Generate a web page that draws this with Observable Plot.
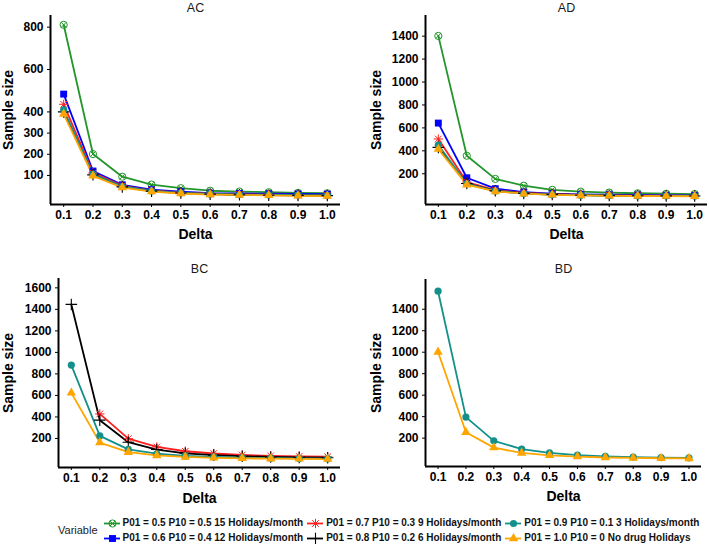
<!DOCTYPE html>
<html><head><meta charset="utf-8">
<script src="https://cdn.jsdelivr.net/npm/d3@7"></script>
<script src="https://cdn.jsdelivr.net/npm/@observablehq/plot@0.6"></script>
<style>
html,body{margin:0;padding:0;background:#fff;}
#fig{position:relative;width:709px;height:544px;overflow:hidden;font-family:"Liberation Sans",Arial,sans-serif;background:#fff;}
.panel{position:absolute;}
#legend{position:absolute;left:58px;top:515px;display:flex;align-items:center;}
#legend .vlab{font-size:11px;color:#222;margin-right:6px;}
#legend .grid{display:grid;grid-auto-flow:column;grid-template-rows:repeat(2,15px);column-gap:4px;}
#legend .item{display:flex;align-items:center;font-size:10px;font-weight:bold;color:#111;white-space:nowrap;}
#legend .item svg{margin-right:3px;}
</style></head><body><div id="fig"></div><script>
// ---- data ----
const deltas = [0.1, 0.2, 0.3, 0.4, 0.5, 0.6, 0.7, 0.8, 0.9, 1.0];
const deltaLabels = ["0.1","0.2","0.3","0.4","0.5","0.6","0.7","0.8","0.9","1.0"];
const seriesLabels = [
  "P01 = 0.5 P10 = 0.5 15 Holidays/month",
  "P01 = 0.6 P10 = 0.4 12 Holidays/month",
  "P01 = 0.7 P10 = 0.3 9 Holidays/month",
  "P01 = 0.8 P10 = 0.2 6 Holidays/month",
  "P01 = 0.9 P10 = 0.1 3 Holidays/month",
  "P01 = 1.0 P10 = 0 No drug Holidays"
];
const panelNames = ["AC", "AD", "BC", "BD"];

// AC
const ac05 = [811, 201, 94, 57, 40, 28, 24, 21, 18, 16];
const ac06 = [484, 121, 56, 33, 24, 17, 15, 14, 13, 12];
const ac07 = [436, 112, 51, 29, 19, 14, 11, 9, 8, 7];
const ac08 = [400, 103, 46, 26, 17, 12, 9, 7, 6, 5];
const ac09 = [410, 106, 48, 27, 18, 13, 10, 8, 7, 6];
const ac10 = [390, 98, 43, 24, 15, 10, 8, 6, 4, 3];
// AD
const ad05 = [1402, 357, 155, 96, 60, 44, 36, 30, 26, 23];
const ad06 = [642, 165, 70, 40, 27, 20, 17, 15, 13, 12];
const ad07 = [503, 128, 57, 33, 22, 16, 12, 10, 9, 8];
const ad08 = [430, 115, 51, 29, 19, 13, 10, 8, 7, 6];
const ad09 = [450, 112, 50, 28, 18, 13, 10, 8, 7, 6];
const ad10 = [415, 105, 46, 26, 16, 11, 8, 6, 5, 4];
// BC
const bc07 = [null, 428, 198, 121, 81, 60, 46, 38, 33, 30];
const bc08 = [1446, 370, 165, 97, 62, 45, 35, 28, 24, 21];
const bc09 = [882, 224, 98, 58, 38, 28, 21, 17, 14, 12];
const bc10 = [624, 162, 72, 42, 28, 20, 15, 12, 10, 8];
// BD
const bd09 = [1568, 396, 175, 98, 62, 42, 31, 24, 19, 16];
const bd10 = [1002, 255, 112, 62, 40, 28, 20, 16, 13, 11];

// y tick values
const acTicks = [100, 200, 300, 400, 600, 800];
const adTicks = [200, 400, 600, 800, 1000, 1200, 1400];
const bcTicks = [200, 400, 600, 800, 1000, 1200, 1400, 1600];
const bdTicks = [200, 400, 600, 800, 1000, 1200, 1400];

// ---- styling ----
const seriesColors = ["#23962b", "#0000ff", "#ff1f1f", "#000000", "#13908a", "#ffa500"];
const seriesShapes = ["circleTimes", "square", "asterisk8", "plus", "circle", "triangle"];
const xDomain = [0.055, 1.045];

function symbolMarks(data, si) {
  const c = seriesColors[si];
  const base = {x: "delta", y: "value"};
  switch (seriesShapes[si]) {
    case "circleTimes": return [
      Plot.dot(data, {...base, symbol: "circle", r: 3.6, stroke: c, fill: "none", strokeWidth: 1}),
      Plot.dot(data, {...base, symbol: "times", r: 2.4, stroke: c, strokeWidth: 1})
    ];
    case "square": return [Plot.dot(data, {...base, symbol: "square", r: 3.9, fill: c, stroke: "none"})];
    case "asterisk8": return [
      Plot.dot(data, {...base, symbol: "plus", r: 3.1, stroke: c, strokeWidth: 1}),
      Plot.dot(data, {...base, symbol: "times", r: 3.1, stroke: c, strokeWidth: 1})
    ];
    case "plus": return [Plot.dot(data, {...base, symbol: "plus", r: 3.8, stroke: c, strokeWidth: 1.1})];
    case "circle": return [Plot.dot(data, {...base, symbol: "circle", r: 3.6, fill: c, stroke: "none"})];
    case "triangle": return [Plot.dot(data, {...base, symbol: "triangle", r: 3.5, fill: c, stroke: "none"})];
  }
}

function makePanel(cfg) {
  const rows = [];
  cfg.series.forEach((si, k) => {
    cfg.values[k].forEach((v, i) => { if (v != null) rows.push({delta: deltas[i], value: v, series: si}); });
  });
  const marks = [
    Plot.ruleX([xDomain[0]], {stroke: "black", strokeWidth: 2}),
    Plot.ruleY([cfg.yDomain[0]], {stroke: "black", strokeWidth: 2}),
    Plot.axisX({ticks: deltas, tickFormat: (d, i) => deltaLabels[i], tickSize: 3, tickPadding: 3, label: null, fontWeight: "bold", fontSize: 12}),
    Plot.axisY({ticks: cfg.yTicks, tickFormat: d => String(d), tickSize: 3, tickPadding: 4, label: null, fontWeight: "bold", fontSize: 12}),
  ];
  cfg.series.forEach(si => {
    marks.push(Plot.line(rows.filter(d => d.series === si), {x: "delta", y: "value", stroke: seriesColors[si], strokeWidth: 1.8}));
  });
  cfg.series.forEach(si => {
    marks.push(...symbolMarks(rows.filter(d => d.series === si), si));
  });
  marks.push(
    Plot.text([cfg.name], {text: d => d, frameAnchor: "top", dy: cfg.titleDy, fontSize: 12.5, fontWeight: "normal", fill: "#1a1a1a", lineAnchor: "middle", textAnchor: "middle"}),
    Plot.text(["Sample size"], {text: d => d, frameAnchor: "left", dx: cfg.yLabelDx, rotate: -90, fontSize: 14, fontWeight: "bold", textAnchor: "middle", lineAnchor: "middle"}),
    Plot.text(["Delta"], {text: d => d, frameAnchor: "bottom", dy: cfg.xLabelDy, fontSize: 14, fontWeight: "bold", textAnchor: "middle", lineAnchor: "middle"})
  );
  const svg = Plot.plot({
    width: cfg.width, height: cfg.height,
    marginLeft: cfg.m[0], marginRight: cfg.m[1], marginTop: cfg.m[2], marginBottom: cfg.m[3],
    x: {domain: xDomain, axis: null},
    y: {domain: cfg.yDomain, axis: null},
    style: {fontFamily: "'Liberation Sans', Arial, sans-serif", color: "black", background: "transparent", overflow: "visible"},
    marks
  });
  const div = document.createElement("div");
  div.className = "panel";
  div.style.left = cfg.left + "px";
  div.style.top = cfg.top + "px";
  div.appendChild(svg);
  document.getElementById("fig").appendChild(div);
}

makePanel({name: panelNames[0], series: [0,1,2,3,4,5], values: [ac05, ac06, ac07, ac08, ac09, ac10],
  yTicks: acTicks, yDomain: [-37, 855], left: 0, top: 0, width: 354, height: 245, m: [50, 14, 15, 41],
  titleDy: -8, yLabelDx: -42, xLabelDy: 30});
makePanel({name: panelNames[1], series: [0,1,2,3,4,5], values: [ad05, ad06, ad07, ad08, ad09, ad10],
  yTicks: adTicks, yDomain: [-68, 1580], left: 354, top: 0, width: 355, height: 245, m: [71, 2, 15, 41],
  titleDy: -8, yLabelDx: -49, xLabelDy: 30});
makePanel({name: panelNames[2], series: [2,3,4,5], values: [bc07, bc08, bc09, bc10],
  yTicks: bcTicks, yDomain: [-70, 1687], left: 0, top: 255, width: 354, height: 250, m: [58, 14, 23, 38],
  titleDy: -10, yLabelDx: -50, xLabelDy: 31});
makePanel({name: panelNames[3], series: [4,5], values: [bd09, bd10],
  yTicks: bdTicks, yDomain: [-64, 1677], left: 354, top: 255, width: 355, height: 250, m: [71, 8, 24, 39],
  titleDy: -11, yLabelDx: -49, xLabelDy: 30});

// ---- legend ----
const legend = document.createElement("div");
legend.id = "legend";
const vlab = document.createElement("div");
vlab.className = "vlab";
vlab.textContent = "Variable";
legend.appendChild(vlab);
const grid = document.createElement("div");
grid.className = "grid";
seriesLabels.forEach((lab, si) => {
  const item = document.createElement("div");
  item.className = "item";
  const key = Plot.plot({
    width: 16, height: 14, margin: 0,
    x: {domain: [0, 1], axis: null}, y: {domain: [0, 1], axis: null},
    style: {background: "transparent", overflow: "visible"},
    marks: [
      Plot.ruleY([0.5], {stroke: seriesColors[si], strokeWidth: 1.8}),
      ...symbolMarks([{delta: 0.5, value: 0.5}], si)
    ]
  });
  item.appendChild(key);
  const span = document.createElement("span");
  span.textContent = lab;
  item.appendChild(span);
  grid.appendChild(item);
});
legend.appendChild(grid);
document.getElementById("fig").appendChild(legend);
</script></body></html>
